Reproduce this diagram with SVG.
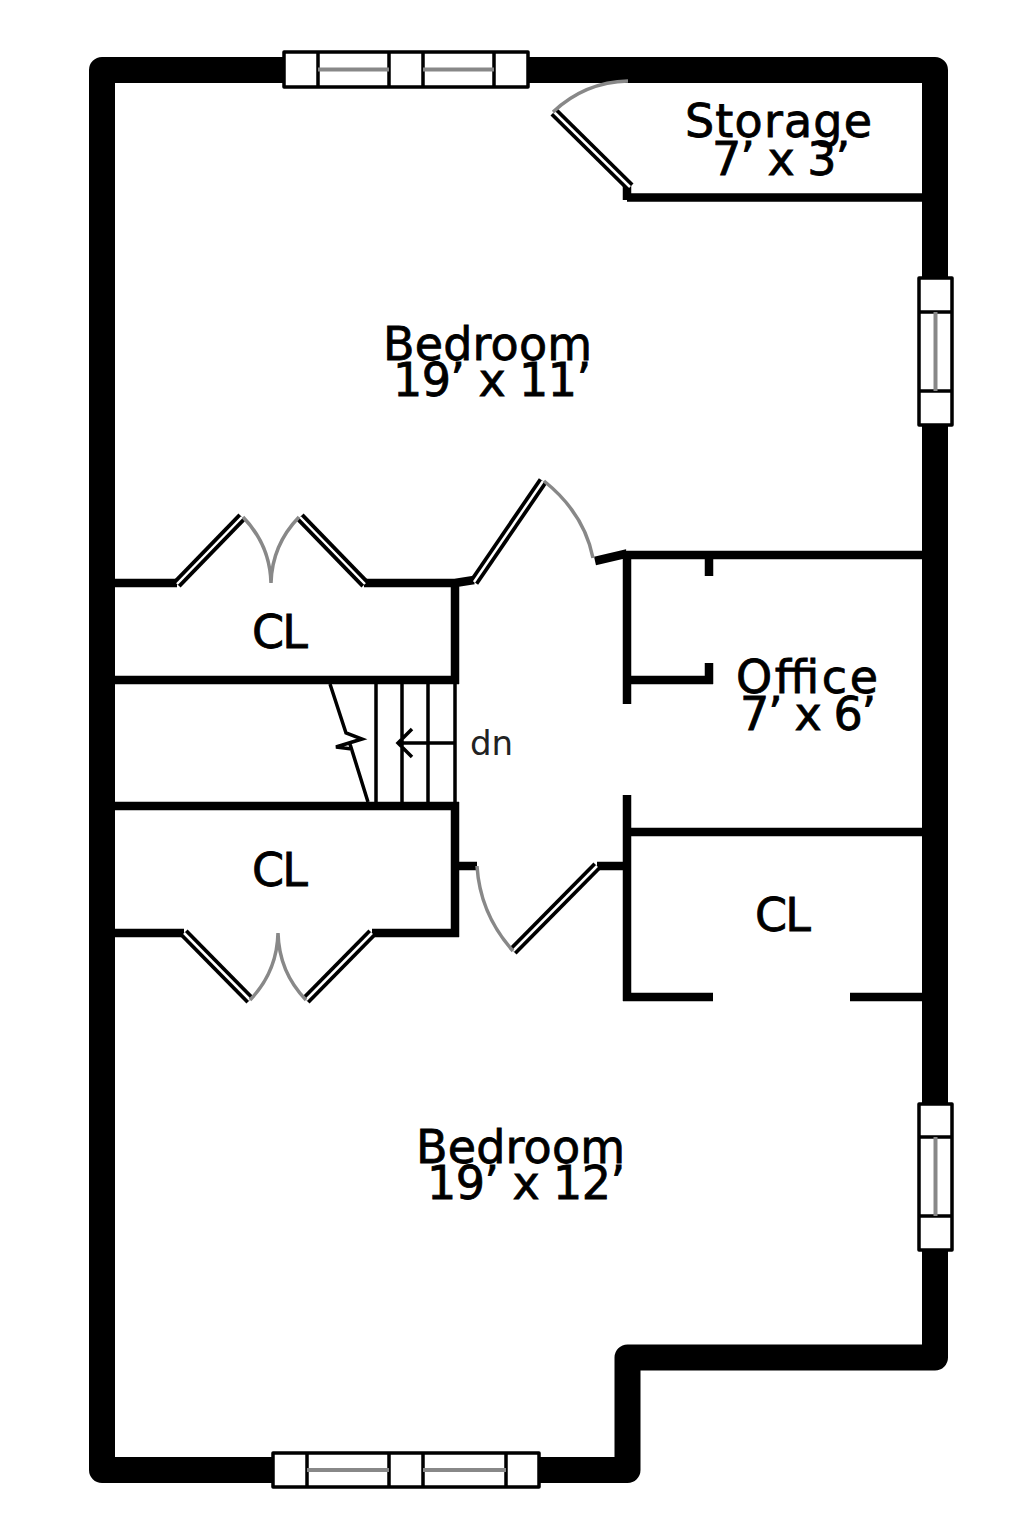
<svg xmlns="http://www.w3.org/2000/svg" width="1024" height="1536" viewBox="0 0 1024 1536">
<style>
.outer{fill:none;stroke:#000;stroke-width:26;stroke-linejoin:round}
.w{fill:none;stroke:#000;stroke-width:8.500}
.win{fill:#fff;stroke:#000;stroke-width:3.500;stroke-linejoin:round}
.div{fill:none;stroke:#000;stroke-width:3.500}
.gl{fill:none;stroke:#888;stroke-width:4}
.arc{fill:none;stroke:#888;stroke-width:3.500}
.lb{fill:none;stroke:#000;stroke-width:10}
.lw{fill:none;stroke:#fff;stroke-width:2.500}
.st{fill:none;stroke:#000;stroke-width:3.500}
text{font-family:"DejaVu Sans",sans-serif;font-size:46px;fill:#000;stroke:#000;stroke-width:.8}
.dn{font-size:34px;stroke:none;fill:#222}
</style>
<rect width="1024" height="1536" fill="#fff"/>
<g id="walls">
<path class="outer" d="M102 70H935V1357.500H627.500V1470H102Z"/>
<path class="w" d="M115 583H177M364 583H455M455 583L474 580M455 579V684M111 680H459M111 806H459M455 802V937M111 933H184M372 933H459M455 866H477M597 866H627M595 561L627 553.500M627 551V704M627 555H922M709 555V576M627 680H713M709 663V684M627 795V1001M627 832H922M623 997H713M850 997H922M627 197.500H922M627 184V200"/>
</g>
<g id="doors">
<path class="lb" d="M554 112L630 187"/><path class="lw" d="M554 112L630 187"/>
<path class="arc" d="M553 112Q585 82 628 81"/>
<path class="lb" d="M177 584L242 517"/><path class="lw" d="M177 584L242 517"/>
<path class="lb" d="M300 517L365 584"/><path class="lw" d="M300 517L365 584"/>
<path class="arc" d="M243 517Q270 545 271 583Q272 545 299 517"/>
<path class="lb" d="M474 582L543 481"/><path class="lw" d="M474 582L543 481"/>
<path class="arc" d="M544 481Q584 513 593 558"/>
<path class="lb" d="M184 933L250 1000"/><path class="lw" d="M184 933L250 1000"/>
<path class="lb" d="M306 1000L372 933"/><path class="lw" d="M306 1000L372 933"/>
<path class="arc" d="M250 1000Q277 972 278 933Q279 972 306 1000"/>
<path class="lb" d="M513 951L597 866"/><path class="lw" d="M513 951L597 866"/>
<path class="arc" d="M477 866Q480 914 513 951"/>
</g>
<g id="stairs">
<path class="st" d="M376 684V803M402 684V803M428 684V803M455 684V803M455 743H398M412 729L398 743L412 757"/>
<path class="st" d="M330 684L346 733L362 739L336 747L352 749M350 744L368 802"/>
<text class="dn" x="470" y="755">dn</text>
</g>
<g id="windows">
<rect class="win" x="284" y="52" width="244" height="35"/>
<path class="div" d="M318 52V87M389 52V87M423 52V87M494 52V87"/>
<path class="gl" d="M318 69.500H389M423 69.500H494"/>
<rect class="win" x="919" y="278" width="33" height="147"/>
<path class="div" d="M919 312H952M919 391H952"/>
<path class="gl" d="M935.500 312V391"/>
<rect class="win" x="919" y="1104" width="33" height="146"/>
<path class="div" d="M919 1137H952M919 1216H952"/>
<path class="gl" d="M935.500 1137V1216"/>
<rect class="win" x="273" y="1453" width="266" height="34"/>
<path class="div" d="M307 1453V1487M389 1453V1487M423 1453V1487M506 1453V1487"/>
<path class="gl" d="M307 1470H389M423 1470H506"/>
</g>
<g id="labels">
<text x="685" y="137" textLength="187" lengthAdjust="spacing">Storage</text>
<text x="712" y="175" textLength="138" lengthAdjust="spacing">7’ x 3’</text>
<text x="383" y="360" textLength="209" lengthAdjust="spacing">Bedroom</text>
<text x="393" y="396" textLength="198" lengthAdjust="spacing">19’ x 11’</text>
<text x="736" y="693" textLength="142" lengthAdjust="spacing">Office</text>
<text x="740" y="730" textLength="136" lengthAdjust="spacing">7’ x 6’</text>
<text x="416" y="1163" textLength="209" lengthAdjust="spacing">Bedroom</text>
<text x="427" y="1199" textLength="198" lengthAdjust="spacing">19’ x 12’</text>
<text x="252" y="648" textLength="56" lengthAdjust="spacing">CL</text>
<text x="252" y="886" textLength="56" lengthAdjust="spacing">CL</text>
<text x="755" y="931" textLength="56" lengthAdjust="spacing">CL</text>
</g>
</svg>
